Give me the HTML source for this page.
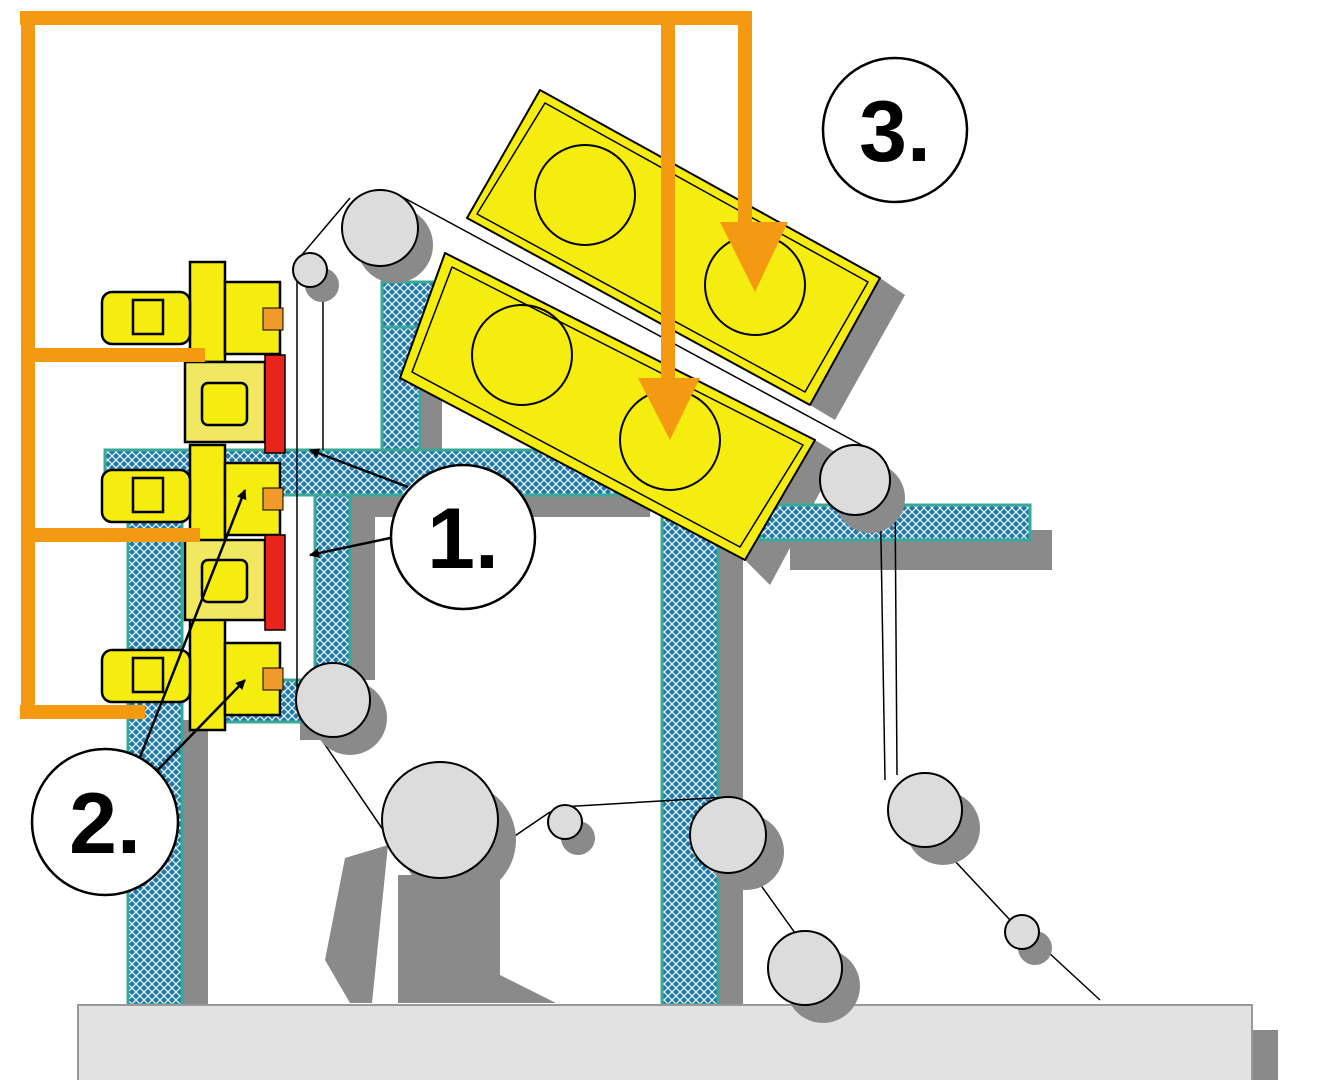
<!DOCTYPE html>
<html><head><meta charset="utf-8"><style>html,body{margin:0;padding:0;background:#fff}svg{display:block}</style></head>
<body>
<svg width="1340" height="1080" viewBox="0 0 1340 1080" xmlns="http://www.w3.org/2000/svg">
<defs>
<pattern id="hx" width="8" height="8" patternUnits="userSpaceOnUse">
<rect width="8" height="8" fill="#1f78a8"/>
<path d="M0 0L8 8M8 0L0 8" stroke="#e8f4f8" stroke-width="1.3"/>
</pattern>
<marker id="ah" markerWidth="10" markerHeight="10" refX="9" refY="5" orient="auto" markerUnits="userSpaceOnUse" viewBox="0 0 10 10"><path d="M0 0L10 5L0 10z" fill="#000"/></marker>
</defs>
<g fill="#8a8a8a">
<rect x="183" y="720" width="25" height="285"/>
<rect x="350" y="515" width="25" height="165"/>
<rect x="718" y="520" width="25" height="485"/>
<rect x="420" y="330" width="22" height="120"/>
<rect x="1030" y="530" width="22" height="40"/>
<rect x="790" y="540" width="262" height="30"/>
<rect x="350" y="495" width="300" height="22"/>
<rect x="300" y="720" width="40" height="20"/>
<rect x="1252" y="1030" width="26" height="50"/>
<polygon points="810,405 880,278 905,295 835,420"/>
<polygon points="745,560 815,440 840,455 770,585"/>
</g>
<g fill="url(#hx)" stroke="#3aa896" stroke-width="3">
<rect x="382" y="282" width="38" height="168"/>
<rect x="382" y="282" width="90" height="45"/>
<rect x="105" y="450" width="540" height="45"/>
<rect x="128" y="495" width="54" height="510"/>
<rect x="315" y="495" width="35" height="185"/>
<rect x="215" y="680" width="100" height="42"/>
<rect x="662" y="495" width="56" height="510"/>
<rect x="760" y="505" width="270" height="35"/>
</g>
<rect x="78" y="1005" width="1174" height="80" fill="#e2e2e2" stroke="#999" stroke-width="2"/>
<g fill="#8a8a8a">
<polygon points="325,960 345,858 388,845 372,1003 350,1003"/>
<rect x="398" y="875" width="102" height="128"/>
<polygon points="500,975 556,1003 500,1003"/>
</g>
<g stroke="#000" stroke-width="2" stroke-linejoin="round">
<polygon points="467,218 540,90 880,278 810,405" fill="#f5ec10"/>
<polygon points="477,214 545,103 868,282 805,392" fill="none" stroke-width="1.5"/>
<polygon points="400,378 445,253 815,440 745,560" fill="#f5ec10"/>
<polygon points="412,372 452,267 803,445 740,547" fill="none" stroke-width="1.5"/>
</g>
<g fill="none" stroke="#000" stroke-width="2">
<circle cx="585" cy="195" r="50"/><circle cx="755" cy="285" r="50"/>
<circle cx="522" cy="355" r="50"/><circle cx="670" cy="440" r="50"/>
</g>
<g stroke="#000" stroke-width="1.5" fill="none">
<line x1="297" y1="265" x2="297" y2="700"/>
<line x1="323" y1="270" x2="323" y2="450"/>
<line x1="300" y1="257" x2="350" y2="198"/>
<line x1="395" y1="193" x2="880" y2="455"/>
<line x1="880" y1="480" x2="885" y2="780"/>
<line x1="895" y1="490" x2="897" y2="775"/>
<line x1="315" y1="730" x2="390" y2="840"/>
<line x1="450" y1="880" x2="550" y2="812"/>
<line x1="560" y1="807" x2="728" y2="797"/>
<line x1="750" y1="870" x2="800" y2="940"/>
<line x1="940" y1="845" x2="1010" y2="920"/>
<line x1="1035" y1="940" x2="1100" y2="1000"/>
<line x1="840" y1="985" x2="850" y2="1010"/>
</g>
<g fill="#8a8a8a">
<circle cx="395" cy="245" r="38"/><circle cx="322" cy="285" r="17"/><circle cx="870" cy="498" r="35"/>
<circle cx="350" cy="718" r="37"/><circle cx="458" cy="840" r="58"/><circle cx="578" cy="838" r="17"/>
<circle cx="746" cy="852" r="38"/><circle cx="943" cy="828" r="37"/><circle cx="1035" cy="948" r="17"/><circle cx="823" cy="986" r="37"/>
</g>
<g fill="#dcdcdc" stroke="#000" stroke-width="2">
<circle cx="380" cy="228" r="38"/><circle cx="310" cy="270" r="17"/><circle cx="855" cy="480" r="35"/>
<circle cx="333" cy="700" r="37"/><circle cx="440" cy="820" r="58"/><circle cx="565" cy="822" r="17"/>
<circle cx="728" cy="835" r="38"/><circle cx="925" cy="810" r="37"/><circle cx="1022" cy="932" r="17"/><circle cx="805" cy="968" r="37"/>
</g>
<g stroke="#000" stroke-width="2.5" fill="#f5ec10">
<rect x="190" y="262" width="35" height="100"/>
<rect x="190" y="445" width="35" height="100"/>
<rect x="190" y="615" width="35" height="115"/>
<rect x="185" y="362" width="80" height="80" fill="#f0e860"/>
<rect x="185" y="540" width="80" height="80" fill="#f0e860"/>
<rect x="225" y="282" width="55" height="72"/>
<rect x="225" y="463" width="55" height="72"/>
<rect x="225" y="643" width="55" height="72"/>
<rect x="102" y="292" width="88" height="52" rx="10"/>
<rect x="102" y="470" width="88" height="52" rx="10"/>
<rect x="102" y="650" width="88" height="52" rx="10"/>
<rect x="133" y="300" width="30" height="34"/>
<rect x="133" y="478" width="30" height="34"/>
<rect x="133" y="658" width="30" height="34"/>
<rect x="202" y="383" width="45" height="42" rx="6"/>
<rect x="202" y="560" width="45" height="42" rx="6"/>
<rect x="265" y="355" width="20" height="98" fill="#e8241c" stroke-width="1.5"/>
<rect x="265" y="535" width="20" height="95" fill="#e8241c" stroke-width="1.5"/>
<rect x="263" y="308" width="20" height="22" fill="#ef9a2a" stroke-width="1"/>
<rect x="263" y="488" width="20" height="22" fill="#ef9a2a" stroke-width="1"/>
<rect x="263" y="668" width="20" height="22" fill="#ef9a2a" stroke-width="1"/>
</g>
<g stroke="#f39a12" stroke-width="14" fill="none" stroke-linecap="butt">
<polyline points="20,18 752,18"/>
<polyline points="28,12 28,712"/>
<polyline points="20,712 145,712"/>
<polyline points="28,355 205,355"/>
<polyline points="28,535 200,535"/>
<polyline points="668,18 668,385"/>
<polyline points="745,18 745,228"/>
</g>
<g fill="#f39a12">
<polygon points="638,378 700,378 670,440"/>
<polygon points="720,222 788,222 755,292"/>
</g>
<g stroke="#000" stroke-width="2.5" fill="none" marker-end="url(#ah)">
<line x1="408" y1="487" x2="310" y2="450"/>
<line x1="395" y1="537" x2="310" y2="555"/>
<line x1="135" y1="770" x2="245" y2="490"/>
<line x1="150" y1="778" x2="245" y2="680"/>
</g>
<g fill="#fff" stroke="#000" stroke-width="2.5">
<circle cx="463" cy="537" r="72"/><circle cx="105" cy="822" r="73"/><circle cx="895" cy="130" r="72"/>
</g>
<g font-family="Liberation Sans, sans-serif" font-weight="bold" font-size="86" text-anchor="middle" fill="#000">
<text x="463" y="568">1.</text><text x="105" y="853">2.</text><text x="895" y="161">3.</text>
</g>
</svg>
</body></html>
